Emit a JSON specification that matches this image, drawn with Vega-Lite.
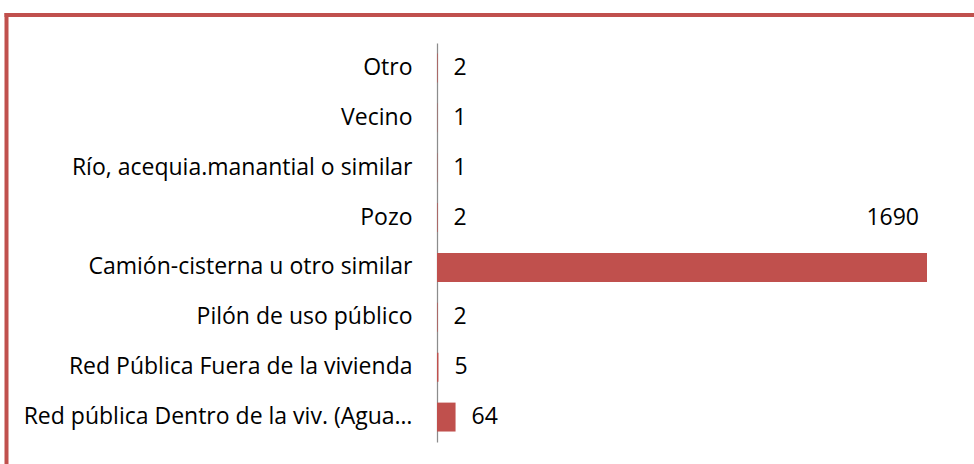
{
  "$schema": "https://vega.github.io/schema/vega-lite/v6.json",
  "width": 968,
  "height": 449.5,
  "autosize": {"type": "none"},
  "padding": {"left": 6, "top": 14.5, "right": 0, "bottom": 0},
  "background": "white",
  "config": {
    "view": {"stroke": null},
    "font": "Open Sans"
  },
  "data": {"values": [
    {"category": "Otro", "count": 2},
    {"category": "Vecino", "count": 1},
    {"category": "Río, acequia.manantial o similar", "count": 1},
    {"category": "Pozo", "count": 2},
    {"category": "Camión-cisterna u otro similar", "count": 1690},
    {"category": "Pilón de uso público", "count": 2},
    {"category": "Red Pública Fuera de la vivienda", "count": 5},
    {"category": "Red pública Dentro de la viv. (Agua potable)", "count": 64}
  ]},
  "layer": [
    {
      "encoding": {
        "y": {
          "field": "category",
          "type": "nominal",
          "sort": null,
          "scale": {"range": [28.5, 427.5], "paddingInner": 0.42, "paddingOuter": 0.21},
          "axis": {
            "title": null,
            "orient": "left",
            "offset": -431,
            "ticks": false,
            "grid": false,
            "labelPadding": 25,
            "labelFontSize": 23,
            "labelFont": "Open Sans",
            "labelColor": "black",
            "labelLimit": 390,
            "domainColor": "#8c8c8c",
            "domainWidth": 1.25,
            "encode": {"labels": {"update": {"dx": {"signal": "datum.value === 'Red pública Dentro de la viv. (Agua potable)' ? 18 : 0"}}}}
          }
        }
      },
      "layer": [
        {
          "mark": {"type": "bar", "color": "#C0504D"},
          "encoding": {
            "x": {"field": "count", "type": "quantitative", "scale": {"domain": [0, 1690], "range": [431, 921], "nice": false, "zero": true}, "axis": null}
          }
        },
        {
          "transform": [{"filter": "datum.count < 1000"}],
          "mark": {"type": "text", "align": "left", "baseline": "middle", "dx": 16, "fontSize": 23, "font": "Open Sans", "color": "black"},
          "encoding": {
            "x": {"field": "count", "type": "quantitative"},
            "text": {"field": "count", "type": "quantitative"}
          }
        },
        {
          "transform": [{"filter": "datum.count >= 1000"}],
          "mark": {"type": "text", "align": "right", "baseline": "middle", "dx": -8, "dy": -49.5, "fontSize": 23, "font": "Open Sans", "color": "black"},
          "encoding": {
            "x": {"field": "count", "type": "quantitative"},
            "text": {"field": "count", "type": "quantitative"}
          }
        }
      ]
    },
    {
      "mark": {"type": "point", "opacity": 0},
      "encoding": {
        "x": {"field": "count", "type": "quantitative", "axis": {"orient": "top", "title": null, "labels": false, "ticks": false, "grid": false, "domain": true, "domainColor": "#C0504D", "domainWidth": 4, "domainCap": "square", "offset": 0}},
        "y": {"field": "count", "type": "quantitative", "axis": {"orient": "left", "title": null, "labels": false, "ticks": false, "grid": false, "domain": true, "domainColor": "#C0504D", "domainWidth": 4, "domainCap": "square", "offset": 0}}
      }
    }
  ],
  "resolve": {"scale": {"x": "independent", "y": "independent"}, "axis": {"x": "independent", "y": "independent"}}
}
